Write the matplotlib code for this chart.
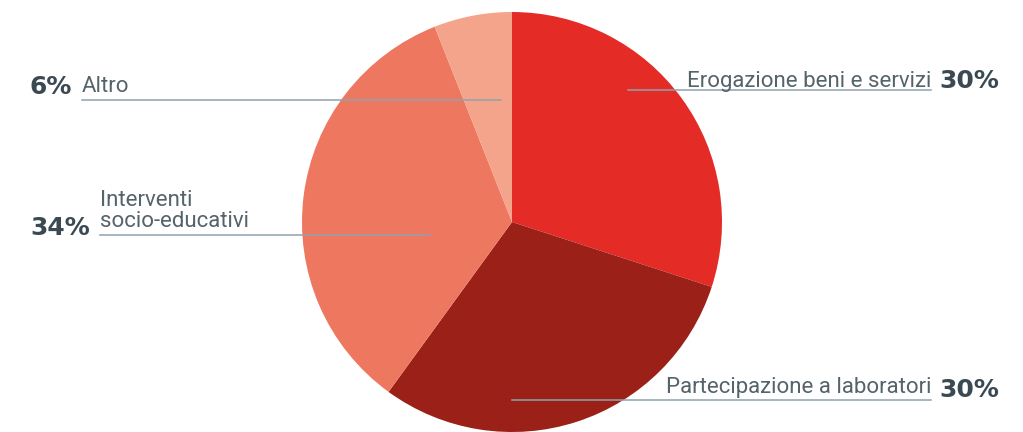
import matplotlib
matplotlib.use("Agg")
import matplotlib.pyplot as plt

categories = ["Erogazione beni e servizi", "Partecipazione a laboratori",
              "Interventi\nsocio-educativi", "Altro"]
values = [30, 30, 34, 6]
pct_labels = ["30%", "30%", "34%", "6%"]
colors = ["#E52B26", "#9B2017", "#EE7760", "#F3A48B"]

W, H = 1023, 432
fig = plt.figure(figsize=(W / 100, H / 100), dpi=100)
ax = fig.add_axes([0, 0, 1, 1])

cx, cy, r = 512, H - 222, 210
ax.pie(values, colors=colors, startangle=90, counterclock=False,
       center=(cx, cy), radius=r, frame=True,
       wedgeprops=dict(linewidth=0))
ax.set_xlim(0, W)
ax.set_ylim(0, H)
ax.set_aspect("equal")
ax.axis("off")

txt_col = "#55636B"
pct_col = "#3B4A52"
line_col = "#8FA2AD"
font = "Roboto"
fs = 16
pfont = "DejaVu Sans"
pfs = 18

def Y(y):
    return H - y

def label(xl, yl_line, xt, yt_base, text, ha, xp, yp, pct, pha):
    ax.plot(xl, [Y(yl_line), Y(yl_line)], color=line_col, lw=1.1, zorder=5)
    ax.text(xt, Y(yt_base), text, ha=ha, va="baseline", color=txt_col,
            fontsize=fs, family=font, linespacing=1.0, zorder=6)
    ax.text(xp, Y(yp), pct, ha=pha, va="center", color=pct_col,
            fontsize=pfs, family=pfont, fontweight="bold", zorder=6)

label([628, 931], 90, 931, 87, categories[0], "right", 939, 81.5, pct_labels[0], "left")
label([512, 931], 400, 931, 393, categories[1], "right", 939, 390, pct_labels[1], "left")
label([100, 430], 235, 100, 227, categories[2], "left", 90, 228, pct_labels[2], "right")
label([82, 501], 100, 82, 92, categories[3], "left", 72, 87, pct_labels[3], "right")

fig.savefig("out.png", dpi=100, facecolor="white")
